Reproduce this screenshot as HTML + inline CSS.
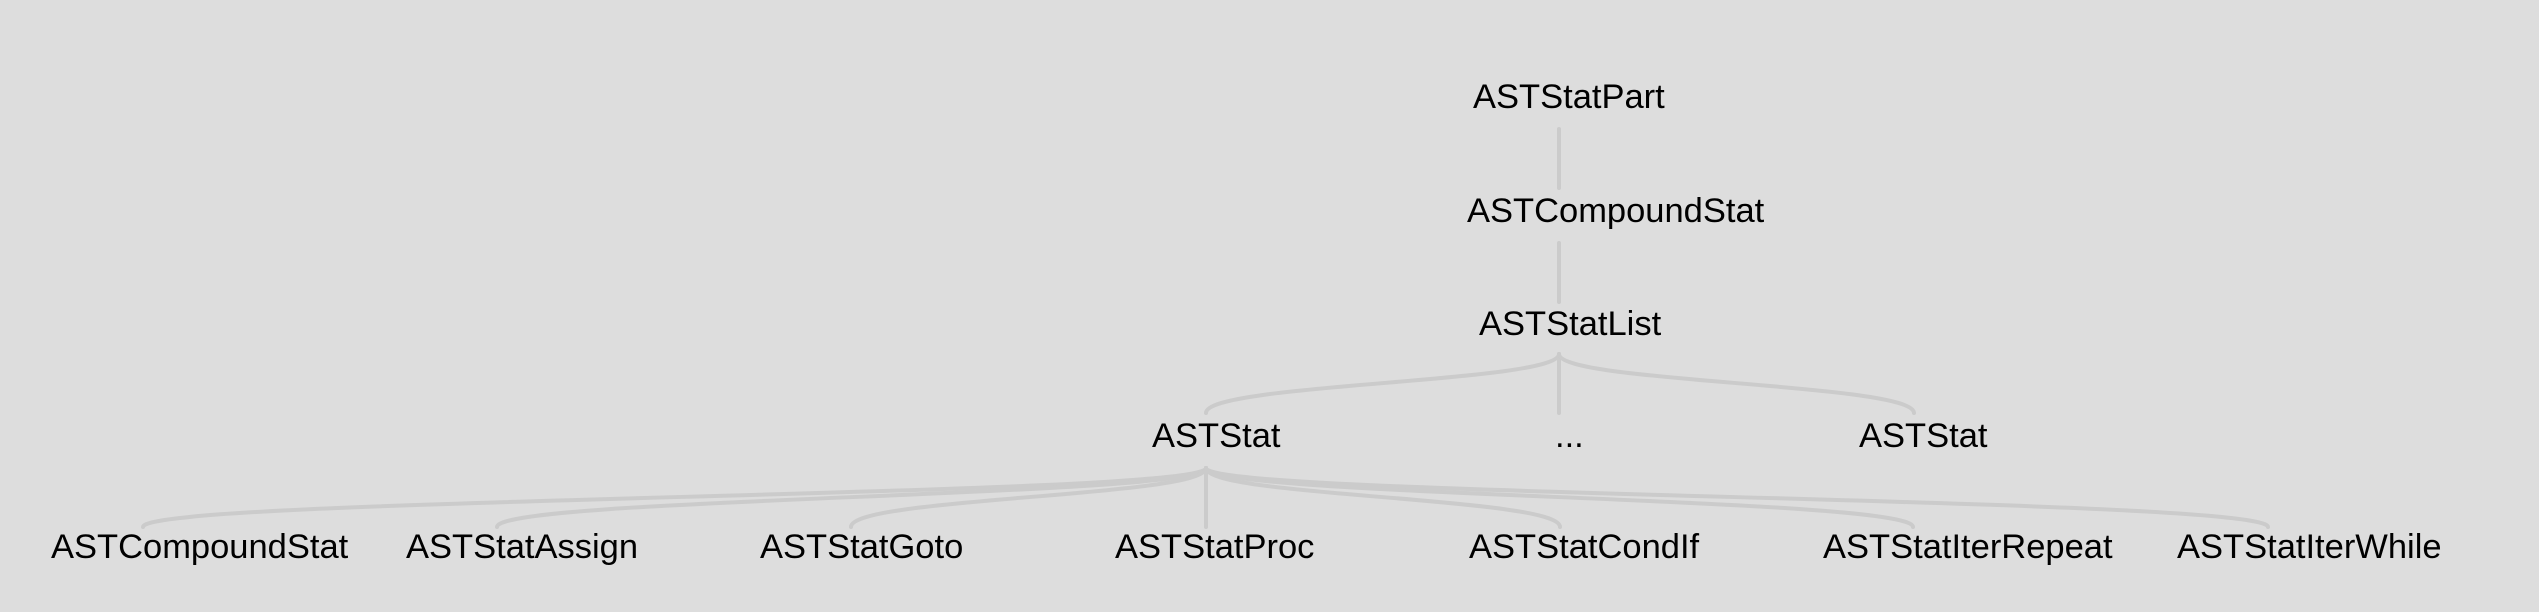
<!DOCTYPE html>
<html><head><meta charset="utf-8"><style>
html,body{margin:0;padding:0;background:#dddddd;}
svg{display:block;}
text{font-family:"Liberation Sans",Arial,sans-serif;font-size:34.5px;fill:#000;}
</style></head><body>
<svg width="2539" height="612" viewBox="0 0 2539 612" xmlns="http://www.w3.org/2000/svg">
<g fill="none" stroke="#cbcbcb" stroke-width="4" stroke-linecap="round">
<path d="M1559 129 L1559 188"/>
<path d="M1559 243 L1559 302"/>
<path d="M1559 354 C1559 383 1206 383 1206 413"/>
<path d="M1559 354 L1559 413"/>
<path d="M1559 354 C1559 383 1914 383 1914 413"/>
<path d="M1206 468 C1206 497 143 497 143 527"/>
<path d="M1206 468 C1206 497 497 497 497 527"/>
<path d="M1206 468 C1206 497 851 497 851 527"/>
<path d="M1206 468 L1206 527"/>
<path d="M1206 468 C1206 497 1560 497 1560 527"/>
<path d="M1206 468 C1206 497 1913 497 1913 527"/>
<path d="M1206 468 C1206 497 2268 497 2268 527"/>
</g>
<text x="1473" y="108">ASTStatPart</text>
<text x="1467" y="222">ASTCompoundStat</text>
<text x="1479" y="335">ASTStatList</text>
<text x="1152" y="447">ASTStat</text>
<text x="1555" y="447">...</text>
<text x="1859" y="447">ASTStat</text>
<text x="51" y="558">ASTCompoundStat</text>
<text x="406" y="558">ASTStatAssign</text>
<text x="760" y="558">ASTStatGoto</text>
<text x="1115" y="558">ASTStatProc</text>
<text x="1469" y="558">ASTStatCondIf</text>
<text x="1823" y="558">ASTStatIterRepeat</text>
<text x="2177" y="558">ASTStatIterWhile</text>
</svg>
</body></html>
